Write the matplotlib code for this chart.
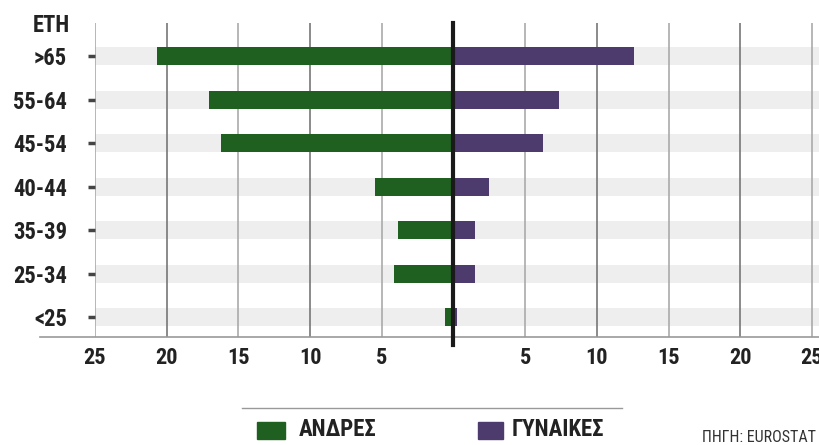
from matplotlib import pyplot as plt
from matplotlib.patches import Rectangle
import numpy as np

AGE_GROUPS = ["<25", "25-34", "35-39", "40-44", "45-54", "55-64", ">65"]
MEN = [0.6, 4.15, 3.85, 5.5, 16.2, 17.05, 20.7]
WOMEN = [0.22, 1.5, 1.5, 2.48, 6.25, 7.35, 12.6]
X_TICKS = [-25, -20, -15, -10, -5, 0, 5, 10, 15, 20, 25]

GREEN = "#1f5f20"
PURPLE = "#4e3b6e"
BAND = "#eeeeee"
TEXT = "#222222"

W, H = 819, 445


def fx(px):
    return px / W


def fy(py):
    return 1 - py / H


def main():
    plt.rcParams['font.family'] = ['Roboto Condensed', 'DejaVu Sans']
    plt.rcParams['font.weight'] = 'bold'

    fig = plt.figure(figsize=(W / 100, H / 100), dpi=100)
    ax = fig.add_axes([fx(95), fy(337), fx(819) - fx(95), fy(23) - fy(337)])

    y = np.arange(len(AGE_GROUPS))
    bar_h = 0.414
    x_min, x_max = -25, 25.49

    ax.barh(y, [x_max - x_min] * len(y), left=x_min, height=bar_h,
            color=BAND, zorder=0)
    for t in X_TICKS:
        if t == 0:
            continue
        shade = "#777777" if abs(t) % 10 == 0 else "#aaaaaa"
        ax.axvline(t, color=shade, lw=1.2, zorder=1)

    ax.barh(y, [-m for m in MEN], height=bar_h, color=GREEN, zorder=2)
    ax.barh(y, WOMEN, height=bar_h, color=PURPLE, zorder=2)

    ax.axvline(0, ymin=-0.026, ymax=1, color="#1a1a1a", lw=3,
               zorder=4, clip_on=False)
    ax.axhline(-0.46, xmin=-0.076, xmax=1, color="#999999", lw=1.2,
               zorder=3, clip_on=False)

    ax.set_xlim(x_min, x_max)
    ax.set_ylim(-0.46, 6.76)
    ax.set_xticks(X_TICKS)
    ax.set_xticklabels(["" if t == 0 else str(abs(t)) for t in X_TICKS])
    ax.set_yticks(y)
    ax.set_yticklabels(AGE_GROUPS)
    ax.tick_params(axis='x', length=0, pad=7, labelsize=16, labelcolor=TEXT)
    ax.tick_params(axis='y', length=5, width=2.5, color="#444444",
                   pad=15, labelsize=16.3, labelcolor=TEXT)
    for s in ax.spines.values():
        s.set_visible(False)

    fig.text(fx(70), fy(25), "ΕΤΗ", ha="right", va="center",
             fontsize=16.3, color=TEXT, fontweight="bold")

    # legend
    fig.add_artist(plt.Line2D([fx(242), fx(622)], [fy(408), fy(408)],
                              color="#999999", lw=1))
    fig.add_artist(Rectangle((fx(257), fy(439)), fx(28), fy(422) - fy(439),
                             color=GREEN, transform=fig.transFigure))
    fig.text(fx(299), fy(430), "ΑΝΔΡΕΣ", ha="left", va="center",
             fontsize=16.5, color=TEXT, fontweight="bold")
    fig.add_artist(Rectangle((fx(478), fy(439)), fx(25), fy(422) - fy(439),
                             color=PURPLE, transform=fig.transFigure))
    fig.text(fx(512), fy(430), "ΓΥΝΑΙΚΕΣ", ha="left", va="center",
             fontsize=16.5, color=TEXT, fontweight="bold")
    fig.text(fx(816), fy(437), "ΠΗΓΗ: EUROSTAT", ha="right", va="center",
             fontsize=11.5, color="#333333", fontweight="normal")

    fig.savefig("out.png", dpi=100)


if __name__ == "__main__":
    main()
